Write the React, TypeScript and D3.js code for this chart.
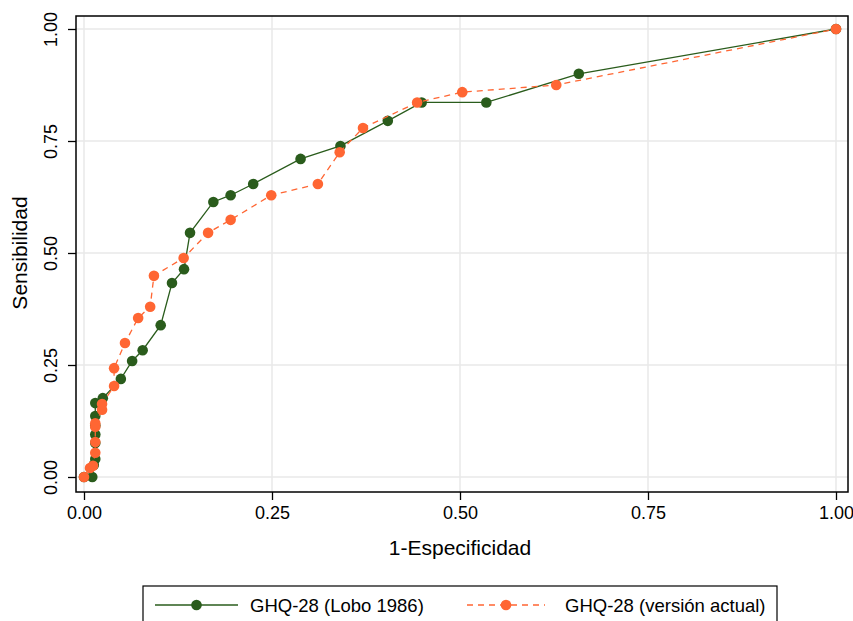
import React, { useRef, useEffect } from "react";
import * as d3 from "d3";

// ROC points: [1-especificidad, sensibilidad]
const loboX = [0, 0.011, 0.013, 0.015, 0.015, 0.015, 0.015, 0.015, 0.015, 0.025, 0.049, 0.064, 0.078, 0.102, 0.117, 0.133, 0.141, 0.172, 0.195, 0.225, 0.288, 0.341, 0.404, 0.449, 0.535, 0.658, 1];
const loboY = [0, 0, 0.027, 0.04, 0.076, 0.095, 0.115, 0.136, 0.165, 0.176, 0.219, 0.259, 0.283, 0.339, 0.433, 0.464, 0.545, 0.614, 0.629, 0.654, 0.71, 0.739, 0.795, 0.836, 0.836, 0.9, 1];

const actualX = [0, 0.008, 0.012, 0.015, 0.015, 0.015, 0.015, 0.024, 0.024, 0.04, 0.04, 0.0545, 0.072, 0.088, 0.093, 0.1325, 0.165, 0.195, 0.249, 0.311, 0.34, 0.371, 0.443, 0.503, 0.628, 1];
const actualY = [0, 0.02, 0.025, 0.054, 0.078, 0.112, 0.12, 0.15, 0.163, 0.203, 0.243, 0.299, 0.355, 0.38, 0.449, 0.489, 0.545, 0.574, 0.629, 0.654, 0.725, 0.779, 0.836, 0.859, 0.875, 1];

const ticks = [0, 0.25, 0.5, 0.75, 1];
const seriesNames = ["GHQ-28 (Lobo 1986)", "GHQ-28 (versión actual)"];

const green = "#2a5c1c";
const orange = "#ff6633";
const font = "'Liberation Sans', Arial, Helvetica, sans-serif";

const W = 853;
const H = 621;

const App = () => {
  const ref = useRef<SVGSVGElement>(null);

  useEffect(() => {
    const svg = d3.select(ref.current);
    svg.selectAll("*").remove();

    const frame = { left: 76, right: 848, top: 16, bottom: 492 };
    const x = d3.scaleLinear().domain([0, 1]).range([84, 836]);
    const y = d3.scaleLinear().domain([0, 1]).range([477, 29]);

    svg.append("rect").attr("width", W).attr("height", H).attr("fill", "#fff");

    // grid
    const grid = svg.append("g");
    ticks.forEach((t) => {
      grid.append("line")
        .attr("x1", frame.left).attr("x2", frame.right)
        .attr("y1", y(t)).attr("y2", y(t))
        .attr("stroke", "#e8e8e8").attr("stroke-width", 1.5);
      grid.append("line")
        .attr("y1", frame.top).attr("y2", frame.bottom)
        .attr("x1", x(t)).attr("x2", x(t))
        .attr("stroke", "#e8e8e8").attr("stroke-width", 1.5);
    });

    // frame
    svg.append("rect")
      .attr("x", frame.left).attr("y", frame.top)
      .attr("width", frame.right - frame.left).attr("height", frame.bottom - frame.top)
      .attr("fill", "none").attr("stroke", "#000").attr("stroke-width", 1.5);

    // axes
    const xAxis = svg.append("g")
      .attr("transform", `translate(0,${frame.bottom})`)
      .call(d3.axisBottom(x).tickValues(ticks).tickFormat(d3.format(".2f")).tickSize(8).tickPadding(6).tickSizeOuter(0));
    xAxis.select(".domain").remove();
    xAxis.selectAll("text").attr("font-family", font).attr("font-size", 18).attr("fill", "#000");

    const yAxis = svg.append("g")
      .attr("transform", `translate(${frame.left},0)`)
      .call(d3.axisLeft(y).tickValues(ticks).tickFormat(d3.format(".2f")).tickSize(8).tickPadding(6).tickSizeOuter(0));
    yAxis.select(".domain").remove();
    yAxis.selectAll("text")
      .attr("font-family", font).attr("font-size", 18).attr("fill", "#000")
      .attr("text-anchor", "middle").attr("dy", 0)
      .attr("x", 0).attr("y", 0)
      .attr("transform", "translate(-24,0) rotate(-90)")
      .attr("dominant-baseline", "middle");
    svg.selectAll(".tick line").attr("stroke", "#000").attr("stroke-width", 1.3);

    // titles
    svg.append("text")
      .attr("x", 460).attr("y", 555)
      .attr("text-anchor", "middle").attr("font-family", font).attr("font-size", 21)
      .text("1-Especificidad");
    svg.append("text")
      .attr("transform", `translate(27,${y(0.5)}) rotate(-90)`)
      .attr("text-anchor", "middle").attr("font-family", font).attr("font-size", 21)
      .text("Sensibilidad");

    const line = d3.line<number[]>().x((d) => x(d[0])).y((d) => y(d[1]));
    const lobo = loboX.map((v, i) => [v, loboY[i]]);
    const actual = actualX.map((v, i) => [v, actualY[i]]);

    svg.append("path").datum(lobo)
      .attr("fill", "none").attr("stroke", green).attr("stroke-width", 1.3).attr("d", line);
    svg.append("g").selectAll("circle").data(lobo).join("circle")
      .attr("cx", (d) => x(d[0])).attr("cy", (d) => y(d[1])).attr("r", 5.3).attr("fill", green);

    svg.append("path").datum(actual)
      .attr("fill", "none").attr("stroke", orange).attr("stroke-width", 1.3)
      .attr("stroke-dasharray", "6,5").attr("d", line);
    svg.append("g").selectAll("circle").data(actual).join("circle")
      .attr("cx", (d) => x(d[0])).attr("cy", (d) => y(d[1])).attr("r", 5.3).attr("fill", orange);

    // legend
    const lg = svg.append("g");
    lg.append("rect").attr("x", 143).attr("y", 586).attr("width", 634).attr("height", 50)
      .attr("fill", "#fff").attr("stroke", "#000").attr("stroke-width", 1.2);
    const items = [
      { name: seriesNames[0], color: green, dash: null, x0: 155, x1: 238, tx: 250 },
      { name: seriesNames[1], color: orange, dash: "6,5", x0: 467, x1: 545, tx: 565 },
    ];
    items.forEach((it) => {
      lg.append("line").attr("x1", it.x0).attr("x2", it.x1).attr("y1", 605).attr("y2", 605)
        .attr("stroke", it.color).attr("stroke-width", 1.3).attr("stroke-dasharray", it.dash);
      lg.append("circle").attr("cx", (it.x0 + it.x1) / 2).attr("cy", 605).attr("r", 5.3).attr("fill", it.color);
      lg.append("text").attr("x", it.tx).attr("y", 612).attr("font-family", font).attr("font-size", 18.5)
        .text(it.name);
    });
  }, []);

  return (
    <svg ref={ref} width={W} height={H}
      style={{ position: "absolute", left: 0, top: 0, display: "block" }} />
  );
};

export default App;
